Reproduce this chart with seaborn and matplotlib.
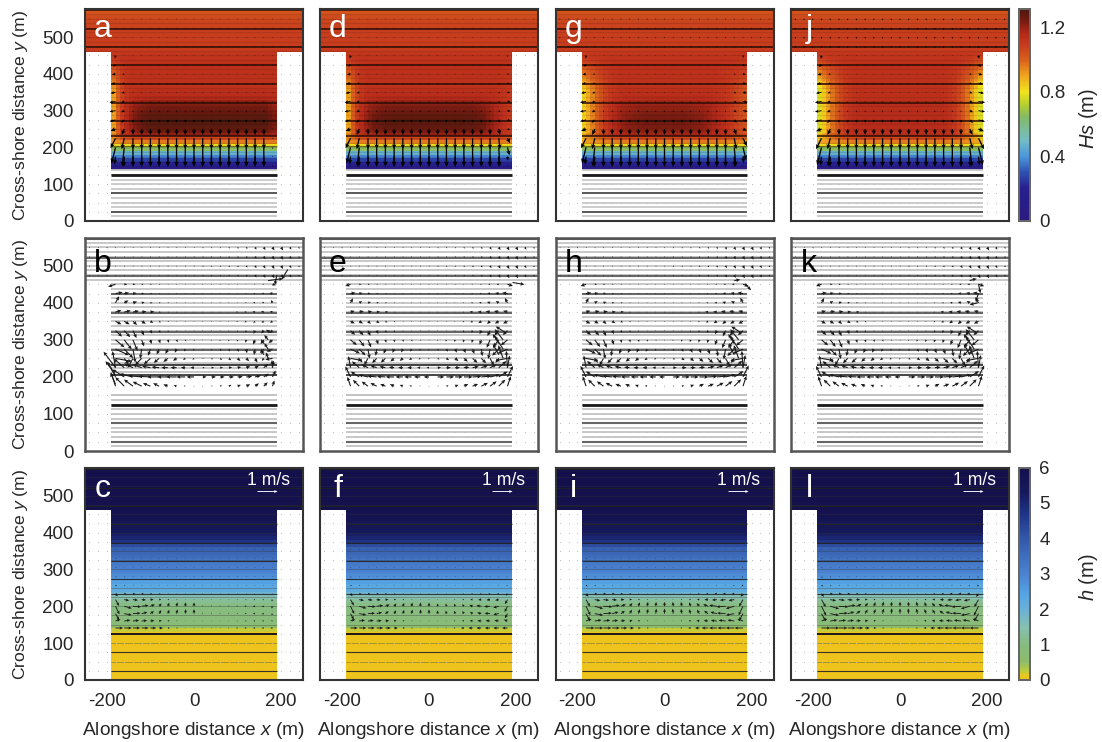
import numpy as np
import matplotlib
matplotlib.use("Agg")
import matplotlib.pyplot as plt
from matplotlib.colors import LinearSegmentedColormap
import seaborn as sns

sns.set_style("white")
plt.rcParams['font.family'] = ['Liberation Sans', 'DejaVu Sans']
plt.rcParams['mathtext.fontset'] = 'custom'
plt.rcParams['mathtext.rm'] = 'Liberation Sans'
plt.rcParams['mathtext.it'] = 'Liberation Sans:italic'

W, H = 1102, 742

# ###########################################
# Layout (pixels of the reference)
# ###########################################
col_left = [85, 320, 555.5, 791]
row_top = [9.5, 238, 468]
row_bot = [221, 451, 680]
panel_w = 218
letters = [['a', 'd', 'g', 'j'], ['b', 'e', 'h', 'k'], ['c', 'f', 'i', 'l']]
letter_y = [0.87, 0.84, 0.863]

# ###########################################
# Fields: 10 m cells, rows from y=5 to y=575
# ###########################################
cell_x = np.arange(-245, 250, 10)
cell_y = np.arange(5, 580, 10)

# wave height in mid basin, y=145..455 then the open band y=465..575
hs_base = [0.07, 0.17, 0.27, 0.37, 0.47, 0.65, 0.80, 0.96, 1.06, 1.12,
           1.13, 1.13, 1.13, 1.13, 1.13, 1.13, 1.13, 1.13, 1.13, 1.13, 1.13,
           1.13, 1.13, 1.13, 1.13, 1.13, 1.13, 1.13, 1.13, 1.13, 1.12, 1.11]
hs_open = [1.09, 1.08, 1.08, 1.08, 1.08, 1.08, 1.07, 1.07, 1.06, 1.05, 1.03, 1.0]
# shoaling band above the breakers
hs_band = [0, 0, 0, 0, 0, 0, 0, 0, 0, 0.5, 0.75, 0.95, 1, 1, 0.95, 0.85, 0.75, 0.6, 0.4, 0.2, 0.1, 0.05,
           0, 0, 0, 0, 0, 0, 0, 0, 0, 0]
# how much of the wall shadow shows at each height
hs_shadow = [0, 0, 0, 0, 0, 0, 0, 0.2, 0.6, 0.8, 1, 1, 1, 1, 1, 1, 1, 1, 1, 1, 1, 1,
             0.9, 0.8, 0.7, 0.6, 0.5, 0.4, 0.3, 0.2, 0.1, 0.05]

fall_narrow = [1, 0.6, 0.3, 0.12, 0.03, 0, 0, 0, 0, 0, 0, 0, 0, 0, 0, 0, 0, 0, 0]
fall_wide = [1, 0.8, 0.62, 0.45, 0.32, 0.2, 0.12, 0.06, 0.02, 0, 0, 0, 0, 0, 0, 0, 0, 0, 0]
band_flat = [0.7, 0.85, 1, 1, 1, 1, 1, 1, 1, 1, 1, 1, 1, 1, 1, 1, 1, 1, 1]
band_wide = [0, 0.08, 0.2, 0.35, 0.5, 0.65, 0.8, 0.9, 0.95, 1, 1, 1, 1, 1, 1, 1, 1, 1, 1]
band_oval = [0, 0, 0.05, 0.1, 0.2, 0.3, 0.4, 0.5, 0.6, 0.7, 0.8, 0.85, 0.9, 0.95, 1, 1, 1, 1, 1]

band_gain = [0.16, 0.15, 0.11, 0.02]
shadow_left = [0.22, 0.22, 0.30, 0.36]
shadow_right = [0.0, 0.03, 0.10, 0.36]
falls_left = [fall_narrow, fall_narrow, fall_wide, fall_wide]
falls_right = [fall_narrow, fall_narrow, fall_wide, fall_wide]
bands_left = [band_wide, band_wide, band_oval, band_wide]
bands_right = [band_flat, band_wide, band_oval, band_wide]

# water depth, y=5..125, y=135..455, y=465..575
h_flat = [0.02] * 13
h_basin = [0.22, 0.55, 0.8, 0.85, 0.9, 0.95, 1.0, 1.05, 1.2, 1.5, 1.9, 2.2, 2.3, 2.5, 2.7, 2.85, 3.0,
           3.1, 3.2, 3.35, 3.5, 3.65, 3.8, 4.2, 4.7, 5.0, 5.2, 5.4, 5.5, 5.6, 5.7, 5.8, 5.85]
h_open = [5.95, 5.95, 5.95, 5.95, 5.95, 5.95, 6.0, 6.0, 6.0, 6.0, 6.0, 6.0]

hs_stops = [(0, '#2a1a80'), (0.2, '#27208e'), (0.3, '#2f50b0'), (0.4, '#4d98dc'), (0.5, '#74bcc4'),
            (0.65, '#86bb62'), (0.72, '#b5cf30'), (0.8, '#f2e31c'), (0.9, '#efa51e'), (1.0, '#d9601c'),
            (1.1, '#c5381d'), (1.16, '#b52a1a'), (1.25, '#701a10'), (1.31, '#4e1a0e')]
h_stops = [(0, '#eec31c'), (0.12, '#e6c821'), (0.25, '#bccb3f'), (0.5, '#8fbc6b'), (1.0, '#87bc82'),
           (1.5, '#86c0b2'), (2.0, '#6ab0d8'), (2.4, '#55a5e5'), (3.0, '#4a82d0'), (4.0, '#3358a8'),
           (4.7, '#1f3488'), (5.3, '#151a5c'), (6.0, '#14104c')]

# ###########################################
# Velocity tables: left half of the basin, x=-180..0 every 20 m
# ###########################################
half_x = [-180, -160, -140, -120, -100, -80, -60, -40, -20, 0]

# forcing panels, y=150..450
wave_y = [150, 175, 200, 225, 250, 275, 300, 325, 350, 375, 400, 425, 450]
wave_v = [-0.05, -0.5, -0.95, -0.55, -0.3, -0.15, -0.08, -0.06, -0.05, -0.05, -0.04, -0.04, -0.03]
wave_wall_u = [0, -0.05, -0.2, -0.25, -0.25, -0.3, -0.3, -0.3, -0.25, -0.2, -0.18, -0.12, -0.03]
wave_wall_v = [0, -0.4, -0.8, -0.5, -0.1, -0.08, -0.05, -0.05, -0.05, -0.05, -0.05, -0.1, -0.15]
wave_gain_left = [1.0, 1.0, 1.0, 1.1]
wave_gain_right = [0.1, 0.5, 0.8, 1.1]
wave_open_v = [-0.04, -0.04, -0.06, -0.09]

# circulation panels, y=175..450
circ_y = [175, 200, 225, 250, 275, 300, 325, 350, 375, 400, 425, 450]
circ_u = [[-0.15, -0.3, -0.3, -0.3, -0.25, -0.2, -0.15, -0.1, -0.05, 0.0],
          [-0.25, -0.4, -0.45, -0.45, -0.4, -0.4, -0.35, -0.35, -0.3, -0.25],
          [-0.1, -0.35, -0.3, -0.3, -0.28, -0.25, -0.22, -0.2, -0.15, -0.12],
          [0.55, 0.15, -0.18, -0.22, -0.22, -0.18, -0.15, -0.12, -0.08, -0.05],
          [0.45, 0.3, 0.08, -0.05, -0.08, -0.08, -0.08, -0.06, -0.04, -0.03],
          [0.3, 0.25, 0.15, 0.08, 0.04, 0.04, 0.04, 0.04, 0.03, 0.02],
          [0.22, 0.2, 0.12, 0.08, 0.06, 0.04, 0.03, 0.02, 0.02, 0.02],
          [0.2, 0.18, 0.14, 0.14, 0.1, 0.06, 0.04, 0.02, 0.02, 0.02],
          [0.2, 0.22, 0.2, 0.16, 0.13, 0.06, 0.04, 0.02, 0.02, 0.02],
          [0.12, 0.14, 0.14, 0.1, 0.07, 0.05, 0.04, 0.02, 0.02, 0.02],
          [0.24, 0.16, 0.12, 0.08, 0.06, 0.04, 0.03, 0.02, 0.02, 0.02],
          [-0.25, 0.1, 0.08, 0.06, 0.05, 0.04, 0.03, 0.02, 0.02, 0.02]]
circ_v = [[0.45, 0.3, 0.22, 0.15, 0.1, 0.1, 0.06, 0.03, 0.02, 0],
          [0.5, 0.25, 0.1, 0.04, 0.02, 0, 0, 0, 0, 0],
          [0.55, 0.3, 0.14, 0.1, 0.05, 0.02, 0, 0, 0, 0],
          [-0.1, -0.2, -0.32, -0.22, -0.2, -0.15, -0.12, -0.08, -0.05, -0.05],
          [-0.2, -0.3, -0.45, -0.32, -0.22, -0.18, -0.16, -0.12, -0.08, -0.06],
          [-0.25, -0.32, -0.36, -0.22, -0.14, -0.12, -0.1, -0.08, -0.05, -0.04],
          [-0.2, -0.22, -0.25, -0.16, -0.1, -0.08, -0.05, -0.04, -0.02, -0.02],
          [-0.1, -0.1, -0.12, -0.08, -0.05, -0.04, -0.02, -0.02, 0, 0],
          [0.06, 0.05, 0.04, 0.02, 0.02, 0, 0, 0, 0, 0],
          [0.22, 0.08, 0.04, 0.02, 0, 0, 0, 0, 0, 0],
          [0.04, 0.03, 0.02, 0, 0, 0, 0, 0, 0, 0],
          [-0.08, 0, 0, 0, 0, 0, 0, 0, 0, 0]]
circ_gain_left = [1.5, 1.05, 1.1, 1.1]
circ_gain_right = [0.65, 1.1, 1.15, 1.15]
# outflow along the right wall
jet_x = [170, 170, 170, 160, 180, 160, 175]
jet_y = [300, 275, 250, 260, 225, 290, 320]
jet_u = [-0.35, -0.35, -0.2, -0.25, -0.05, -0.25, -0.4]
jet_v = [0.45, 0.55, 0.55, 0.45, 0.7, 0.4, 0.25]
jet_gain = [0.55, 1.2, 1.2, 1.2]
# stray arrows of single panels: x, y, u, v
extra_x = [[-180, -180, -180, 170, 215, 190], [190], [185, 160], [180, 180, 178, 160]]
extra_y = [[180, 205, 225, 460, 490, 475], [455], [450, 460], [450, 425, 400, 460]]
extra_u = [[-0.25, -0.5, -0.6, 0.75, -0.3, -0.1], [0.6], [0.3, 0.3], [0.1, -0.15, -0.4, 0.35]]
extra_v = [[0.6, 0.7, 0.8, 0.1, -0.5, -0.5], [-0.1], [-0.3, 0.05], [-0.45, -0.4, -0.1, 0.1]]
# open band arrows, x=-240..240
open_speed = [0.05, 0.05, 0.06, 0.05, 0.05, 0.05, 0.05, 0.05, 0.05, 0.05, 0.05, 0.05, 0.05,
              0.06, 0.06, 0.06, 0.07, 0.08, 0.09, 0.12, 0.14, 0.16, 0.16, 0.12, 0.08]
open_x = np.arange(-240, 241, 20)
open_y = [475, 500, 525, 550]

# depth panels, rows closer together over the bar
under_y = [141, 160, 180, 200, 218, 234, 257, 280, 305, 330, 355, 380]
under_u = [[0.42, 0.42, 0.4, 0.38, 0.32, 0.22, 0.12, 0.08, 0.04, 0.02],
           [0.28, 0.34, 0.34, 0.3, 0.22, 0.15, 0.1, 0.06, 0.03, 0.0],
           [0.2, 0.42, 0.42, 0.32, 0.2, 0.12, 0.08, 0.05, 0.03, 0.0],
           [0.22, 0.42, 0.45, 0.38, 0.25, 0.14, 0.08, 0.05, 0.02, 0.0],
           [0.2, 0.28, 0.28, 0.24, 0.18, 0.12, 0.08, 0.05, 0.03, 0.0],
           [0.12, 0.14, 0.14, 0.12, 0.1, 0.08, 0.05, 0.04, 0.03, 0.0],
           [0.08, 0.06, 0.05, 0.05, 0.04, 0.03, 0.03, 0.02, 0.02, 0.0],
           [0.06, 0.05, 0.04, 0.04, 0.03, 0.03, 0.02, 0.02, 0.02, 0.0],
           [0.05, 0.04, 0.04, 0.03, 0.03, 0.02, 0.02, 0.02, 0.02, 0.0],
           [0.05, 0.04, 0.03, 0.03, 0.02, 0.02, 0.02, 0.02, 0.02, 0.0],
           [0.03, 0.03, 0.03, 0.02, 0.02, 0.02, 0.02, 0.02, 0.02, 0.0],
           [0.02, 0.02, 0.02, 0.02, 0.02, 0.02, 0.02, 0.02, 0.02, 0.0]]
under_v = [[0, 0, 0, 0, 0, 0, 0, 0, 0, 0],
           [0.1, 0.05, 0.04, 0.03, 0.03, 0.03, 0.03, 0.02, 0.02, 0.02],
           [-0.35, -0.08, 0.03, 0.08, 0.14, 0.2, 0.22, 0.24, 0.25, 0.25],
           [-0.45, -0.12, -0.03, 0.05, 0.1, 0.16, 0.2, 0.22, 0.22, 0.22],
           [-0.35, -0.05, -0.03, -0.02, 0, 0.02, 0.03, 0.03, 0.03, 0.03],
           [-0.15, -0.03, -0.02, 0, 0, 0, 0, 0, 0, 0],
           [-0.05, -0.03, 0, 0, 0, 0, 0, 0, 0, 0],
           [-0.04, -0.03, 0, 0, 0, 0, 0, 0, 0, 0],
           [-0.03, 0, 0, 0, 0, 0, 0, 0, 0, 0],
           [-0.03, 0, 0, 0, 0, 0, 0, 0, 0, 0],
           [0, 0, 0, 0, 0, 0, 0, 0, 0, 0],
           [0, 0, 0, 0, 0, 0, 0, 0, 0, 0]]
under_gain_left = [0.9, 0.85, 1.0, 1.05]
under_gain_right = [0.25, 0.65, 1.0, 1.05]

# mesh lines
dark_lines = [25, 75, 232, 273, 322, 372, 423, 473, 522, 573]
mesh_lines = np.arange(12.5, 575, 12.5)
quay_y = 460
wall_x = 190


def make_cmap(stops, vmax):
    return LinearSegmentedColormap.from_list('field', [(p / vmax, c) for p, c in stops])


def hs_field(i):
    field = np.full((len(cell_y), len(cell_x)), np.nan)
    left = np.array(falls_left[i] + [0] * 19)
    right = np.array([0] * 19 + falls_right[i][::-1])
    lat = np.array(bands_left[i] + bands_right[i][::-1], float)
    for r, y in enumerate(cell_y):
        if y < 140:
            continue
        if y > quay_y:
            field[r] = hs_open[r - 46]
            continue
        k = r - 14
        row = hs_base[k] + band_gain[i] * hs_band[k] * lat
        row = row - hs_shadow[k] * (shadow_left[i] * left + shadow_right[i] * right)
        field[r, 6:44] = row
    return field


def h_field():
    field = np.full((len(cell_y), len(cell_x)), np.nan)
    profile = h_flat + h_basin
    for r, y in enumerate(cell_y):
        if y > quay_y:
            field[r] = h_open[r - 46]
        else:
            field[r, 6:44] = profile[r]
    return field


def mirror(ys, table_u, table_v, gain_left, gain_right):
    xs, yy, us, vs = [], [], [], []
    for r, y in enumerate(ys):
        for c, x in enumerate(half_x):
            xs.append(x)
            yy.append(y)
            us.append(gain_left * table_u[r][c])
            vs.append(gain_left * table_v[r][c])
            if x < 0:
                xs.append(-x)
                yy.append(y)
                us.append(-gain_right * table_u[r][c])
                vs.append(gain_right * table_v[r][c])
    return xs, yy, us, vs


def arrows(ax, x, y, u, v, color='black', lw=1.0):
    # 1 m/s is 20 px on the page
    ax.quiver(x, y, u, v, angles='uv', scale_units='dots', scale=0.05, units='dots', width=lw,
              headwidth=3.4, headlength=3.8, headaxislength=3.2, color=color, minlength=0.7, zorder=5)


def mesh(ax, row):
    for y in mesh_lines:
        x0, x1 = (-250, 250) if y > quay_y else (-wall_x, wall_x)
        if row == 1:
            if 155 < y < 205:
                continue
            ax.hlines(y, x0, x1, color='#c4c4c4', lw=1.3, zorder=1)
        elif row == 0:
            if y < 140:
                ax.hlines(y, x0, x1, color='#c8c8c8', lw=1.3, zorder=1)
            elif y > 140:
                ax.hlines(y, x0, x1, color='black', alpha=0.10, lw=0.9, zorder=1)
        elif y % 25 == 0:
            ax.hlines(y, x0, x1, color='#333333', alpha=0.35, lw=0.7, zorder=1)
    for y in dark_lines:
        x0, x1 = (-250, 250) if y > quay_y else (-wall_x, wall_x)
        if row == 1:
            ax.hlines(y, x0, x1, color='#666666', lw=1.5, zorder=2)
        elif row == 0:
            ax.hlines(y, x0, x1, color='#5a5a5a' if y < 100 else '#2a0c06', lw=1.4 if y < 100 else 1.1, zorder=2)
        else:
            ax.hlines(y, x0, x1, color='#222222', lw=0.8, alpha=0.85, zorder=2)
    ax.hlines(125, -wall_x, wall_x, color='#1a1a1a', lw=2.0 if row < 2 else 1.4, zorder=3)
    if row == 1:
        ax.hlines([205, 232], -wall_x, wall_x, color='#444444', lw=1.4, zorder=2)
        ax.hlines(150, -wall_x, wall_x, color='#c4c4c4', lw=1.2, zorder=1)
    if row == 0:
        ax.hlines(205, -wall_x, wall_x, color='#1a1a1a', lw=0.9, alpha=0.6, zorder=2)


# ###########################################
# Make plots
# ###########################################
fig = plt.figure(figsize=(W / 100, H / 100), dpi=100)


def box(left, top, right, bottom):
    return [left / W, 1 - bottom / H, (right - left) / W, (bottom - top) / H]


hs_cax = fig.add_axes(box(1018.5, 9.5, 1029.5, 221))
h_cax = fig.add_axes(box(1018.5, 467.5, 1029.5, 680))
hs_cmap = make_cmap(hs_stops, 1.31)
h_cmap = make_cmap(h_stops, 6.0)
depth = h_field()

dot_x, dot_y = np.meshgrid(np.arange(-240, 241, 20), np.arange(25, 451, 25))
outside = (np.abs(dot_x) > wall_x) | (dot_y < 140)

for row in range(3):
    for i in range(4):
        pos = box(col_left[i], row_top[row], col_left[i] + panel_w, row_bot[row])
        heat = fig.add_axes(pos)
        if row == 0:
            sns.heatmap(hs_field(i), ax=heat, cmap=hs_cmap, vmin=0, vmax=1.31, xticklabels=False,
                        yticklabels=False, cbar=i == 0, cbar_ax=hs_cax if i == 0 else None,
                        cbar_kws={'ticks': [0, 0.4, 0.8, 1.2]})
        elif row == 2:
            sns.heatmap(depth, ax=heat, cmap=h_cmap, vmin=0, vmax=6, xticklabels=False,
                        yticklabels=False, cbar=i == 0, cbar_ax=h_cax if i == 0 else None,
                        cbar_kws={'ticks': [0, 1, 2, 3, 4, 5, 6]})
        heat.set_xlim(0, len(cell_x))
        heat.set_ylim(0, 57.5)
        heat.axis('off')

        ax = fig.add_axes(pos, facecolor='none')
        ax.set_xlim(-250, 250)
        ax.set_ylim(0, 575)
        mesh(ax, row)
        ax.scatter(dot_x[outside], dot_y[outside], s=0.5, color='#bdbdbd', linewidths=0, zorder=1)

        if row == 0:
            vs = [[wave_wall_v[r]] + [wave_v[r]] * 9 for r in range(len(wave_y))]
            us = [[wave_wall_u[r], 0.5 * wave_wall_u[r]] + [0] * 8 for r in range(len(wave_y))]
            x, y, u, v = mirror(wave_y, us, vs, wave_gain_left[i], wave_gain_right[i])
            # mid basin forcing is not scaled by the wall gains
            x, y, u, v = np.array(x), np.array(y), np.array(u), np.array(v)
            mid = np.abs(x) < 170
            v[mid] = np.array([wave_v[wave_y.index(k)] for k in y[mid]])
            low = y <= 250
            arrows(ax, x[low], y[low], u[low], v[low], lw=1.3)
            arrows(ax, x[~low], y[~low], u[~low], v[~low], lw=0.9)
            ox, oy = np.meshgrid(open_x, open_y)
            arrows(ax, ox.ravel(), oy.ravel(), 0 * ox.ravel(), wave_open_v[i] + 0 * ox.ravel(), lw=0.9)
        elif row == 1:
            x, y, u, v = mirror(circ_y, circ_u, circ_v, circ_gain_left[i], circ_gain_right[i])
            arrows(ax, x, y, u, v, color='#1a1a1a', lw=1.1)
            arrows(ax, jet_x, jet_y, np.array(jet_u) * jet_gain[i], np.array(jet_v) * jet_gain[i],
                   color='#1a1a1a', lw=1.1)
            arrows(ax, extra_x[i], extra_y[i], extra_u[i], extra_v[i], color='#1a1a1a', lw=1.1)
            ox, oy = np.meshgrid(open_x, open_y)
            sp = np.tile(open_speed, (len(open_y), 1))
            arrows(ax, ox.ravel(), oy.ravel(), 0.6 * sp.ravel(), -sp.ravel(), color='#1a1a1a', lw=1.0)
        else:
            x, y, u, v = mirror(under_y, under_u, under_v, under_gain_left[i], under_gain_right[i])
            arrows(ax, x, y, u, v, color='#1a1a1a', lw=0.9)
            ax.text(0.84, 0.943, '1 m/s', transform=ax.transAxes, color='white', fontsize=12.7,
                    ha='center', va='center')
            arrows(ax, [145], [513], [1], [0], color='white', lw=0.9)

        ax.set_xticks([-200, 0, 200])
        ax.set_yticks([0, 100, 200, 300, 400, 500])
        ax.tick_params(length=0, labelsize=13.5, pad=8)
        if row < 2:
            ax.set_xticklabels([])
        else:
            ax.set_xticklabels(['-200', '0', '200'])
            ax.tick_params(axis='x', pad=9)
            ax.set_xlabel(r'Alongshore distance $\it{x}$ (m)', fontsize=13.8)
            ax.xaxis.set_label_coords(0.5, -0.19)
        if i > 0:
            ax.set_yticklabels([])
        else:
            ax.set_ylabel(r'Cross-shore distance $\it{y}$ (m)', fontsize=12.6)
            ax.yaxis.set_label_coords(-0.25, 0.5)
        for s in ax.spines.values():
            s.set_visible(True)
            s.set_color('#555555' if row == 1 else '#333333')
            s.set_linewidth(1.8 if row == 1 else 1.5)
        ax.text(18 / panel_w, letter_y[row], letters[row][i], transform=ax.transAxes, fontsize=23,
                color='black' if row == 1 else 'white', ha='center', va='baseline', zorder=6)

for cax, labels, text, yc in [(hs_cax, ['0', '0.4', '0.8', '1.2'], r'$\it{Hs}$ (m)', 0.487),
                              (h_cax, ['0', '1', '2', '3', '4', '5', '6'], r'$\it{h}$ (m)', 0.485)]:
    cax.set_yticklabels(labels)
    cax.tick_params(length=0, labelsize=13.5, pad=7)
    cax.set_ylabel(text, fontsize=14.5)
    cax.yaxis.set_label_coords(5.35, yc)
    for s in cax.spines.values():
        s.set_visible(True)
        s.set_color('#666666')
        s.set_linewidth(1.3)

fig.savefig('out.png', dpi=100)
